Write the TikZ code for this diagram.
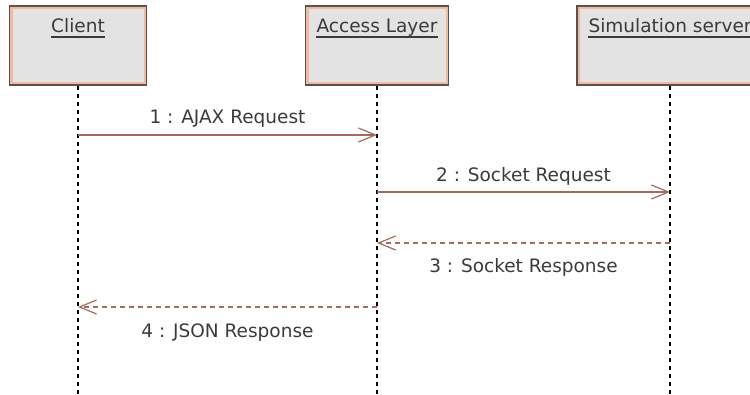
\documentclass[tikz,border=0pt]{standalone}
\usepackage{fontspec}
\setmainfont{DejaVu Sans}
\usetikzlibrary{arrows.meta}
\definecolor{boxfill}{HTML}{E3E3E3}
\definecolor{boxline}{HTML}{5E504C}
\definecolor{boxpeach}{HTML}{F0B9A4}
\definecolor{msgcol}{HTML}{A36B5F}
\definecolor{txtcol}{HTML}{3A3A3A}
\tikzset{
  obj/.style={rectangle, draw=boxline, line width=1.2pt, fill=boxfill, minimum height=79pt, inner sep=0pt,
    path picture={\draw[boxpeach, line width=6pt] (path picture bounding box.south west) rectangle (path picture bounding box.north east);}},
  objname/.style={anchor=base, inner sep=0pt, text=txtcol},
  uline/.style={txtcol, line width=1.3pt},
  life/.style={line width=1.1pt, dash pattern=on 4pt off 4pt},
  msg/.style={msgcol, line width=1.2pt, -{Straight Barb[length=17pt, width=14pt, line width=1.2pt]}},
  reply/.style={msg, dash pattern=on 5pt off 4pt},
  msglbl/.style={anchor=base, inner sep=0pt, text=txtcol}
}
\begin{document}
\begin{tikzpicture}[x=1pt, y=-1pt, font=\fontsize{18.5}{22}\selectfont]
    \useasboundingbox (0,0) rectangle (750,395);
    \clip (0,0) rectangle (750,395);

    % objects
    \node[obj, minimum width=137pt] (client) at (78,45.5) {};
    \node[obj, minimum width=143pt] (access) at (377,45.5) {};
    \node[obj, minimum width=186pt] (sim) at (670,45.5) {};
    \node[objname] (clientlbl) at (78,33) {Client};
    \node[objname] (accesslbl) at (377,33) {Access Layer};
    \node[objname] (simlbl) at (670,33) {Simulation server};
    \draw[uline] ([yshift=-4pt]clientlbl.base west) -- ([yshift=-4pt]clientlbl.base east);
    \draw[uline] ([yshift=-4pt]accesslbl.base west) -- ([yshift=-4pt]accesslbl.base east);
    \draw[uline] ([yshift=-4pt]simlbl.base west) -- ([yshift=-4pt]simlbl.base east);

    % lifelines
    \coordinate (clientend) at (78,395);
    \coordinate (accessend) at (377,395);
    \coordinate (simend) at (670,395);
    \draw[life] (client.south) -- (clientend);
    \draw[life] (access.south) -- (accessend);
    \draw[life] (sim.south) -- (simend);

    % messages
    \coordinate (c1) at (78,135);  \coordinate (a1) at (377,135);
    \coordinate (a2) at (377,192); \coordinate (s2) at (670,192);
    \coordinate (s3) at (670,243); \coordinate (a3) at (377,243);
    \coordinate (a4) at (377,307); \coordinate (c4) at (78,307);
    \draw[msg] (c1) -- (a1) node[msglbl, midway, yshift=11pt] (m1) {1 : AJAX Request};
    \draw[msg] (a2) -- (s2) node[msglbl, midway, yshift=10pt] (m2) {2 : Socket Request};
    \draw[reply] (s3) -- (a3) node[msglbl, midway, yshift=-29.5pt] (m3) {3 : Socket Response};
    \draw[reply] (a4) -- (c4) node[msglbl, midway, yshift=-31pt] (m4) {4 : JSON Response};
\end{tikzpicture}
\end{document}
